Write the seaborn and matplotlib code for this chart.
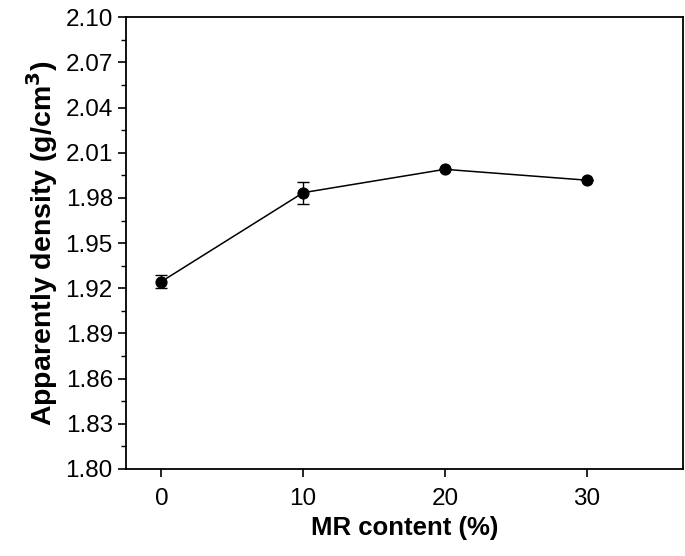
import matplotlib
matplotlib.use("Agg")
import matplotlib.pyplot as plt
import seaborn as sns
import pandas as pd
from matplotlib.ticker import AutoMinorLocator

mr_content = [0, 10, 20, 30]
density = [1.9245, 1.9835, 1.9990, 1.9918]
density_err = [0.0042, 0.0072, 0.0, 0.0]
y_ticks = [1.80, 1.83, 1.86, 1.89, 1.92, 1.95, 1.98, 2.01, 2.04, 2.07, 2.10]
x_ticks = [0, 10, 20, 30]

sns.set_style("ticks")
plt.rcParams['font.family'] = ['Liberation Sans', 'DejaVu Sans']
plt.rcParams.update({"text.color": "black", "axes.labelcolor": "black",
                     "xtick.color": "black", "ytick.color": "black"})

df = pd.DataFrame({"MR": mr_content, "density": density, "err": density_err})

fig = plt.figure(figsize=(6.85, 5.56), dpi=100)
ax = fig.add_axes([0.184, 0.1565, 0.813, 0.8125])

sns.lineplot(data=df, x="MR", y="density", ax=ax, color="black", linewidth=1.1,
             marker="o", markersize=8, markeredgecolor="black", markerfacecolor="black")
ax.errorbar(df["MR"], df["density"], yerr=df["err"], fmt="none", ecolor="black",
            elinewidth=1.0, capsize=4, capthick=1.0)

ax.set_xlim(-2.5, 36.8)
ax.set_ylim(1.80, 2.10)
ax.set_xticks(x_ticks)
ax.set_yticks(y_ticks)
ax.set_yticklabels([f"{v:.2f}" for v in y_ticks])
ax.yaxis.set_minor_locator(AutoMinorLocator(2))
ax.tick_params(axis="both", which="major", direction="out", length=6, width=1.2,
               labelsize=17.5, colors="black", labelcolor="black")
ax.tick_params(axis="x", which="major", pad=8)
ax.tick_params(axis="y", which="minor", direction="out", length=3.5, width=1.0, colors="black")
for s in ax.spines.values():
    s.set_linewidth(1.3)
    s.set_color("black")

ax.set_xlabel("MR content (%)", fontsize=18.5, fontweight="bold", labelpad=4, color="black")
ax.set_ylabel("Apparently density (g/cm$^\\mathbf{3}$)", fontsize=20.5, fontweight="bold",
              labelpad=4, color="black")

fig.savefig("out.png", dpi=100)
